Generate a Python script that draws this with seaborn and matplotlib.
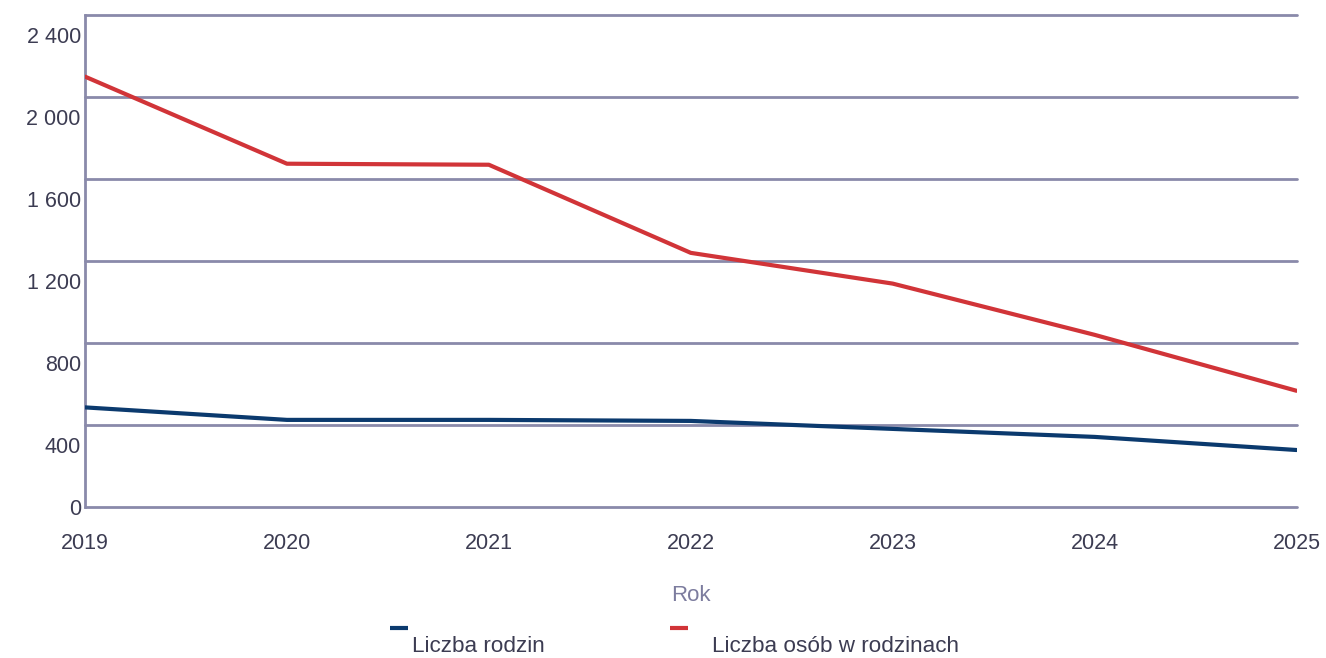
import pandas as pd
import matplotlib.pyplot as plt
import seaborn as sns
from matplotlib.lines import Line2D
from matplotlib.transforms import ScaledTranslation

# Data
years = [2019, 2020, 2021, 2022, 2023, 2024, 2025]
rodziny = [486, 425, 425, 420, 381, 342, 278]
osoby = [2100, 1675, 1670, 1240, 1090, 840, 567]
y_ticks = [0, 400, 800, 1200, 1600, 2000, 2400]
y_labels = ['0', '400', '800', '1 200', '1 600', '2 000', '2 400']
series_names = ['Liczba rodzin', 'Liczba osób w rodzinach']

df = pd.DataFrame({
    'Rok': years * 2,
    'value': rodziny + osoby,
    'series': [series_names[0]] * len(years) + [series_names[1]] * len(years),
})

blue = '#0b3a6e'
red = '#d13438'
axis_col = '#8a8aaa'
text_col = '#3c3c52'

sns.set_style('white')
plt.rcParams['font.family'] = ['Liberation Sans', 'DejaVu Sans']

fig = plt.figure(figsize=(13.26, 6.58), dpi=100)
ax = fig.add_axes([0.0641, 0.2295, 0.9137, 0.7475])

sns.lineplot(data=df, x='Rok', y='value', hue='series',
             palette=[blue, red], linewidth=3, legend=False, ax=ax, zorder=3)

ax.set_xlim(2019, 2025)
ax.set_ylim(0, 2400)
ax.set_xticks(years)
ax.set_xticklabels([str(y) for y in years])
ax.set_yticks(y_ticks)
ax.set_yticklabels(y_labels)
ax.grid(axis='y', color=axis_col, linewidth=2)
ax.grid(axis='x', visible=False)
for line in ax.get_ygridlines():
    line.set_clip_on(False)
for s in ['top', 'right', 'bottom']:
    ax.spines[s].set_visible(False)
ax.spines['left'].set_color(axis_col)
ax.spines['left'].set_linewidth(2)
ax.tick_params(axis='both', length=0, labelsize=15.5, colors=text_col)
ax.tick_params(axis='x', pad=19)
ax.tick_params(axis='y', pad=3)

# labels sit a bit below their gridlines in the original
off = ScaledTranslation(0, -0.2, fig.dpi_scale_trans)
for lab in ax.get_yticklabels()[1:]:
    lab.set_transform(lab.get_transform() + off)

ax.set_xlabel('Rok', fontsize=16, color='#7c7c9e', labelpad=22)
ax.set_ylabel('')

# legend: short line above each label
for x0, xt, col, name in [(390, 412, blue, series_names[0]),
                          (670, 712, red, series_names[1])]:
    fig.add_artist(Line2D([x0 / 1326, (x0 + 18) / 1326], [1 - 628 / 658] * 2,
                          color=col, linewidth=3, solid_capstyle='butt',
                          transform=fig.transFigure))
    fig.text(xt / 1326, 1 - 647 / 658, name, fontsize=16.2, color=text_col,
             ha='left', va='center')

plt.savefig('out.png', dpi=100)
